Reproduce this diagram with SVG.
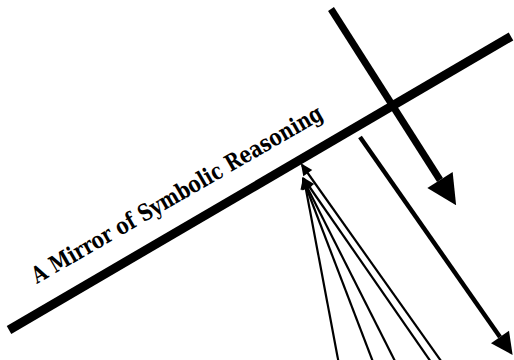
<svg xmlns="http://www.w3.org/2000/svg" width="514" height="360" viewBox="0 0 514 360">
<style>
.mirror{stroke:#000;stroke-width:9;fill:none}
.ray{stroke:#000;fill:none}
.thick{stroke-width:7}
.refl{stroke-width:4.5}
.thin{stroke-width:2.2}
.label{font-family:"DejaVu Serif","Liberation Serif",serif;font-weight:bold;font-size:23px;fill:#000}
</style>
<defs>
<marker id="bigHead" markerUnits="userSpaceOnUse" markerWidth="32" markerHeight="32" refX="0" refY="0" viewBox="0 -16 32 32" orient="auto" overflow="visible">
<path d="M0,-15 L30,0 L0,15 z" fill="#000"/>
</marker>
<marker id="midHead" markerUnits="userSpaceOnUse" markerWidth="24" markerHeight="24" refX="0" refY="0" viewBox="0 -12 24 24" orient="auto" overflow="visible">
<path d="M0,-11 L22,0 L0,11 z" fill="#000"/>
</marker>
<marker id="smallHead" markerUnits="userSpaceOnUse" markerWidth="14" markerHeight="14" refX="10" refY="0" viewBox="0 -7 14 14" orient="auto" overflow="visible">
<path d="M0,-5.5 L12,0 L0,5.5 z" fill="#000"/>
</marker>
</defs>
<g id="mirror">
<line class="mirror" x1="9" y1="330" x2="511" y2="36.5"/>
<text class="label" transform="translate(37,284) rotate(-30)" x="0" y="0" textLength="332" lengthAdjust="spacingAndGlyphs">A Mirror of Symbolic Reasoning</text>
</g>
<g id="connectors">
<line class="ray thick" x1="331" y1="9" x2="440" y2="180" marker-end="url(#bigHead)"/>
<line class="ray refl" x1="360" y1="137" x2="500" y2="337" marker-end="url(#midHead)"/>
<line class="ray thin" x1="341" y1="375" x2="304" y2="179" marker-end="url(#smallHead)"/>
<line class="ray thin" x1="378" y1="375" x2="303" y2="179" marker-end="url(#smallHead)"/>
<line class="ray thin" x1="402" y1="375" x2="303" y2="179" marker-end="url(#smallHead)"/>
<line class="ray thin" x1="440" y1="375" x2="304" y2="179" marker-end="url(#smallHead)"/>
<line class="ray thin" x1="451" y1="375" x2="302" y2="165" marker-end="url(#smallHead)"/>
</g>
</svg>
